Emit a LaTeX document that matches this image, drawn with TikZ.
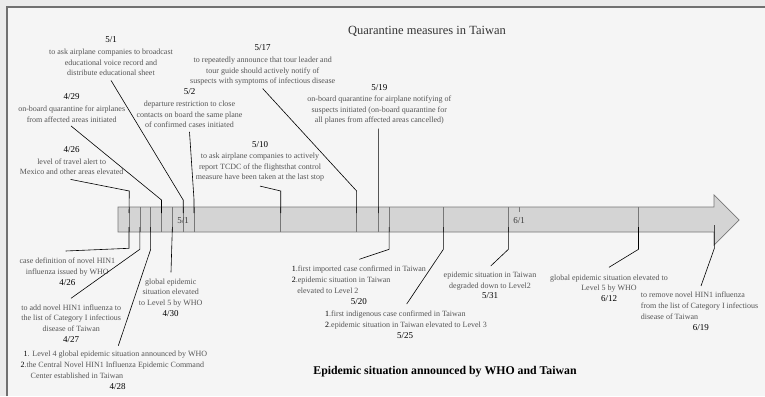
\documentclass[tikz,border=0pt]{standalone}
\usepackage{fontspec}
\setmainfont{Liberation Serif}
\definecolor{txtgray}{HTML}{555555}
\definecolor{bargray}{HTML}{D4D4D4}
\definecolor{edgegray}{HTML}{777777}
\definecolor{framegray}{HTML}{707070}
\definecolor{bgin}{HTML}{F5F5F5}
\definecolor{bgout}{HTML}{EBEBEB}
\newcommand{\dt}[1]{{\fontsize{9}{10.5}\selectfont\color{black}#1}}
\newcommand{\nm}[1]{{\color{black}#1}}
\tikzset{
  lbl/.style={inner sep=0pt, text=txtgray, font=\fontsize{8}{10.5}\selectfont, align=center},
  lbll/.style={inner sep=0pt, text=txtgray, font=\fontsize{8}{10.7}\selectfont, align=left, anchor=north west},
  leader/.style={draw=black, line width=0.6pt},
  tick/.style={draw=edgegray, line width=0.6pt},
}
\begin{document}
\begin{tikzpicture}[x=1pt,y=-1pt]
\useasboundingbox (0,0) rectangle (765,396);
\fill[bgout] (0,0) rectangle (765,396);
\fill[bgin] (7,7) rectangle (765,396);
\draw[framegray, line width=2pt] (7,396) -- (7,7) -- (765,7);

% arrow bar
\draw[edgegray, fill=bargray, line width=0.7pt] (118,207) -- (714,207) -- (714,195) -- (739,220) -- (714,245) -- (714,232) -- (118,232) -- cycle;

% date coordinates on the bar (x = 129 + 10.84 * day)
\foreach \n/\d in {t426/0, t427/1, t428/2, t429/3, t430/4, t501/5, t502/6, t510/14, t517/21, t519/23, t520/24, t525/29, t531/35, t612/47, t619/54}{
  \coordinate (\n) at ({129+10.84*\d},220);
}
\foreach \n in {t426,t427,t428,t429,t430,t501,t502,t510,t517,t519,t520,t525,t531,t612}{
  \draw[tick] (\n |- 0,207) -- (\n |- 0,232);
}
\coordinate (t601) at ({129+10.84*36},207);
\draw[tick] (t601) -- ++(0,5);
\node[inner sep=0pt, font=\fontsize{9}{10}\selectfont, text=txtgray!70!black] (l51) at (183,221) {5/1};
\node[inner sep=0pt, font=\fontsize{9}{10}\selectfont, text=txtgray!70!black] (l61) at (t601 |- 0,221) {6/1};

% title
\node[inner sep=0pt, font=\fontsize{12.5}{14}\selectfont, text=black!80] (title) at (427,31) {Quarantine measures in Taiwan};
\node[inner sep=0pt, font=\fontsize{11.8}{14}\selectfont\bfseries] (subtitle) at (445,372) {Epidemic situation announced by WHO and Taiwan};

% ---------- above ----------
\node[lbl, anchor=north] (a426) at (71.7,146) {\dt{4/26}\\[1.5pt]level of travel alert to\\Mexico and other areas elevated};
\node[lbl, anchor=north] (a429) at (71.7,93) {\dt{4/29}\\[2pt]on-board quarantine for airplanes\\from affected areas initiated};
\node[lbl, anchor=north] (a501) at (111,36) {\dt{5/1}\\[2pt]to ask airplane companies to broadcast\\educational voice record and\\distribute educational sheet};
\node[lbl, anchor=north] (a502) at (189.5,88) {\dt{5/2}\\[2pt]departure restriction to close\\contacts on board the same plane\\of confirmed cases initiated};
\node[lbl, anchor=north] (a510) at (260,141) {\dt{5/10}\\[1pt]to ask airplane companies to actively\\report TCDC of the flightsthat control\\measure have been taken at the last stop};
\node[lbl, anchor=north] (a517) at (262.7,44) {\dt{5/17}\\[2pt]to repeatedly announce that tour leader and\\tour guide should actively notify of\\suspects with symptoms of infectious disease};
\node[lbl, anchor=north] (a519) at (379.3,84) {\dt{5/19}\\[1pt]on-board quarantine for airplane notifying of\\suspects initiated (on-board quarantine for\\all planes from affected areas cancelled)};

\draw[leader] ([xshift=-1pt,yshift=-4.5pt]a426.south) -- (129.3,191) -- (t426 |- 0,213);
\draw[leader] ([xshift=-0.7pt,yshift=-3.5pt]a429.south) -- (t429 |- 0,200) -- (t429 |- 0,213);
\draw[leader] ([yshift=-4.5pt]a501.south) -- (t501 |- 0,200) -- (t501 |- 0,213);
\draw[leader] ([yshift=-4pt]a502.south) -- (t502 |- 0,200) -- (t502 |- 0,213);
\draw[leader] ([yshift=-4.5pt]a510.south) -- (t510 |- 0,191) -- (t510 |- 0,213);
\draw[leader] ([yshift=-3pt]a517.south) -- (t517 |- 0,191) -- (t517 |- 0,213);
\draw[leader] ([xshift=-1pt,yshift=-4pt]a519.south) -- (t519 |- 0,213);

% ---------- below ----------
\node[lbl, anchor=north] (b426) at (67.3,258) {case definition of novel HIN1\\influenza issued by WHO\\[0.5pt]\dt{4/26}};
\node[lbl, anchor=north] (b427) at (71.2,304.5) {to add novel HIN1 influenza to\\the list of Category I infectious\\disease of Taiwan\\[1pt]\dt{4/27}};
\node[lbl, anchor=north] (b430) at (170.7,278.5) {global epidemic\\situation elevated\\to Level 5 by WHO\\[0.5pt]\dt{4/30}};
\node[lbll] (b428) at (20.5,351) {\hspace*{3pt}\nm{1}. Level 4 global epidemic situation announced by WHO\\\nm{2}.the Central Novel HIN1 Influenza Epidemic Command\\\hspace*{10pt}Center established in Taiwan\\[1pt]\hspace*{89pt}\dt{4/28}};
\node[lbll] (b520) at (291.7,266) {\nm{1}.first imported case confirmed in Taiwan\\\nm{2}.epidemic situation in Taiwan\\\hspace*{5.5pt}elevated to Level 2\\[0.5pt]\hspace*{59pt}\dt{5/20}};
\node[lbll] (b525) at (325,311) {\nm{1}.first indigenous case confirmed in Taiwan\\\nm{2}.epidemic situation in Taiwan elevated to Level 3\\[0.3pt]\hspace*{72pt}\dt{5/25}};
\node[lbl, anchor=north] (b531) at (490,272) {epidemic situation in Taiwan\\degraded down to Level2\\\dt{5/31}};
\node[lbl, anchor=north] (b612) at (609,274.3) {global epidemic situation elevated to\\Level 5 by WHO\\\dt{6/12}};
\node[lbll] (b619) at (640.7,292) {to remove novel HIN1 influenza\\from the list of Category I infectious\\disease of Taiwan\\[1pt]\hspace*{52pt}\dt{6/19}};

\draw[leader] (t426 |- 0,227) -- (t426 |- 0,248.3) -- ([xshift=-1.6pt,yshift=7pt]b426.north);
\draw[leader] (t427 |- 0,227) -- (t427 |- 0,249.3) -- ([xshift=-0.2pt,yshift=6.2pt]b427.north);
\draw[leader] (t428 |- 0,227) -- (t428 |- 0,249.3) -- (118.3,345.7) coordinate (e428);
\draw[leader] (t430 |- 0,227) -- (171,272.3) coordinate (e430);
\draw[leader] (t520 |- 0,227) -- (t520 |- 0,249.3) -- (359.3,259.3) coordinate (e520);
\draw[leader] (t525 |- 0,227) -- (t525 |- 0,249.3) -- (406.7,304) coordinate (e525);
\draw[leader] (t531 |- 0,227) -- (t531 |- 0,249.3) -- ([xshift=0.7pt,yshift=6pt]b531.north);
\draw[leader] (t612 |- 0,227) -- (t612 |- 0,249.3) -- ([yshift=7pt]b612.north);
\draw[leader] (t619 |- 0,225) -- (t619 |- 0,248.3) -- (701,286) coordinate (e619);
\end{tikzpicture}
\end{document}
